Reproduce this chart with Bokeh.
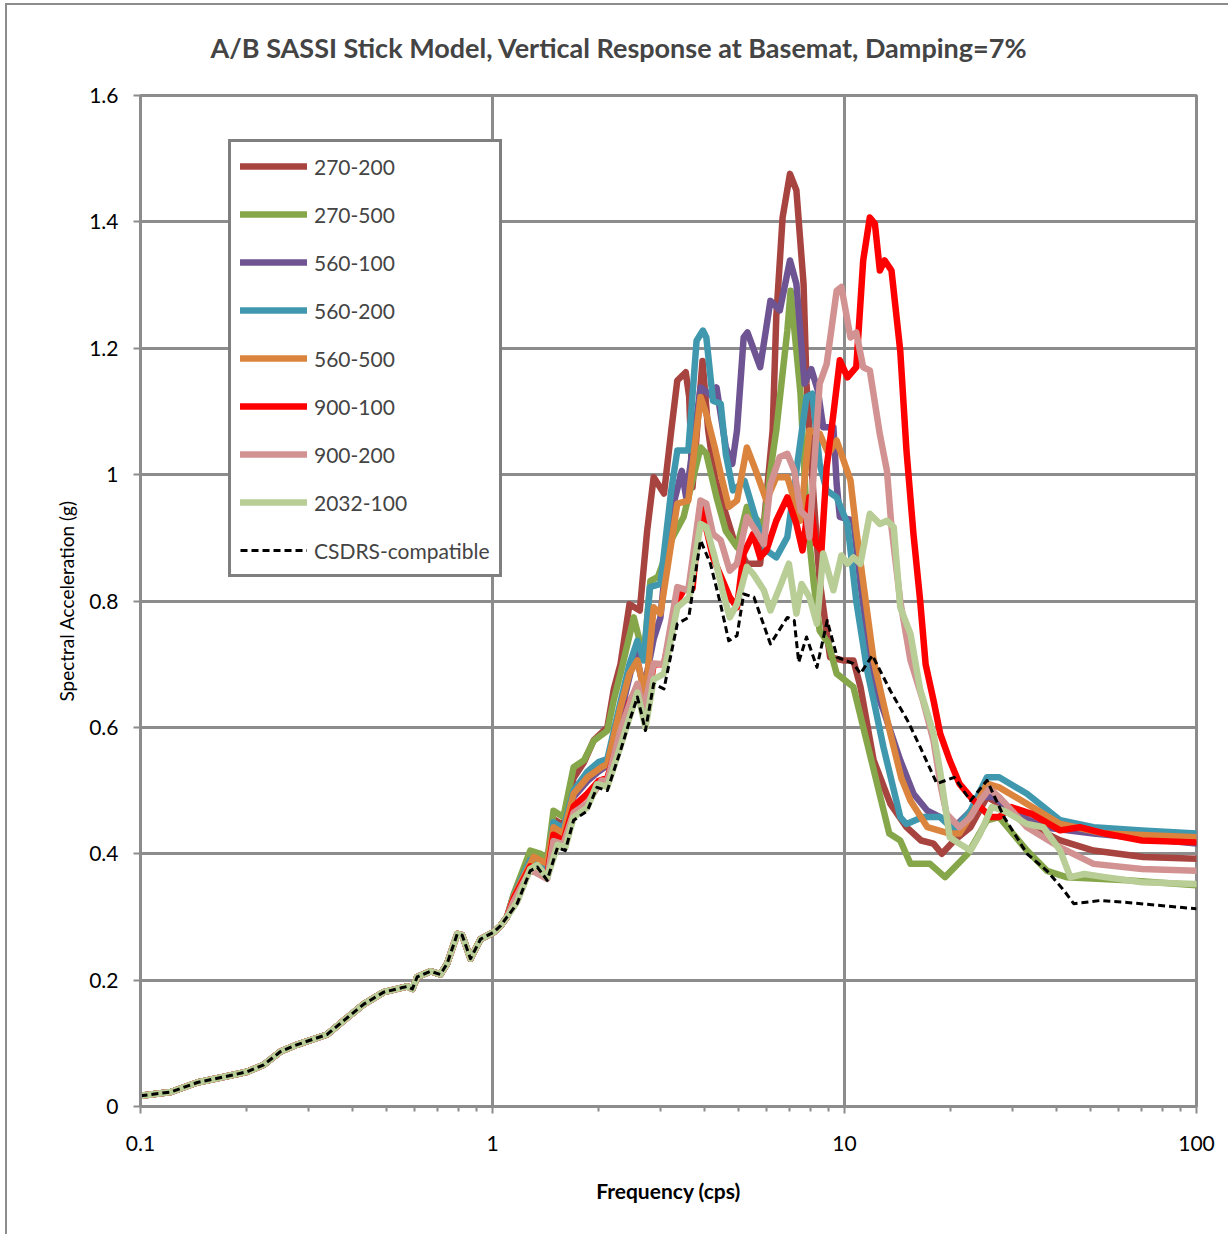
from bokeh.plotting import figure
from bokeh.models import (Range1d, FixedTicker, CustomJSTickFormatter, Legend, LegendItem)
from bokeh.embed import file_html
from bokeh.resources import INLINE

# ---------------- data ----------------
chart_title = "A/B SASSI Stick Model, Vertical Response at Basemat, Damping=7%"
series_names = ["270-200", "270-500", "560-100", "560-200", "560-500",
                "900-100", "900-200", "2032-100", "CSDRS-compatible"]

# shared part below ~1.1 cps (all curves coincide)
freq_low = [0.1, 0.122, 0.145, 0.18, 0.201, 0.224, 0.25, 0.279, 0.339, 0.378, 0.431, 0.491,
            0.573, 0.592, 0.611, 0.667, 0.711, 0.743, 0.794, 0.82, 0.866, 0.925, 1.009, 1.054, 1.10]
sa_low = [0.017, 0.023, 0.038, 0.049, 0.055, 0.066, 0.087, 0.098, 0.114, 0.136, 0.162, 0.181,
          0.190, 0.186, 0.205, 0.214, 0.209, 0.226, 0.273, 0.271, 0.234, 0.265, 0.276, 0.286, 0.300]

f_270_200 = [1.15, 1.28, 1.43, 1.49, 1.59, 1.70, 1.82, 1.94, 2.12, 2.21, 2.31, 2.45, 2.62, 2.75, 2.87,
             3.07, 3.22, 3.35, 3.54, 3.62, 3.70, 3.95, 4.10, 4.28, 4.45, 4.82, 5.28, 5.76, 6.00, 6.25,
             6.40, 6.67, 7.00, 7.30, 7.65, 7.80, 8.18, 8.50, 9.10, 9.90, 10.6, 11.1, 12.1, 13.5, 15.0,
             16.5, 17.9, 18.9, 20.5, 22.8, 25.4, 27.5, 33.0, 41.0, 51.0, 70.6, 100]
a_270_200 = [0.335, 0.39, 0.385, 0.455, 0.445, 0.52, 0.545, 0.58, 0.60, 0.66, 0.70, 0.795, 0.785, 0.911,
             0.996, 0.970, 1.070, 1.149, 1.162, 1.123, 0.98, 1.18, 1.07, 0.996, 0.964, 0.901, 0.859,
             0.859, 0.964, 1.07, 1.249, 1.407, 1.476, 1.450, 1.302, 1.144, 0.96, 0.832, 0.711, 0.706,
             0.706, 0.664, 0.548, 0.479, 0.442, 0.421, 0.416, 0.400, 0.421, 0.442, 0.490, 0.479, 0.447,
             0.421, 0.405, 0.395, 0.392]

f_270_500 = [1.15, 1.28, 1.37, 1.43, 1.49, 1.59, 1.70, 1.82, 1.94, 2.12, 2.21, 2.31, 2.52, 2.69, 2.81,
             2.95, 3.25, 3.49, 3.90, 4.05, 4.33, 4.60, 4.95, 5.28, 5.55, 5.90, 6.16, 6.40, 6.88, 7.03,
             7.50, 7.80, 8.18, 8.50, 9.00, 9.50, 10.6, 11.8, 13.4, 14.4, 15.4, 17.5, 19.3, 22.4, 25.4,
             27.5, 33.0, 37.6, 42.7, 63.5, 100]
a_270_500 = [0.337, 0.405, 0.400, 0.389, 0.468, 0.458, 0.537, 0.548, 0.579, 0.595, 0.643, 0.685, 0.774,
             0.711, 0.832, 0.838, 0.901, 0.933, 1.043, 1.033, 0.964, 0.911, 0.885, 0.949, 0.933, 0.917,
             1.006, 1.070, 1.228, 1.291, 1.128, 0.938, 0.827, 0.753, 0.733, 0.685, 0.664, 0.558, 0.432,
             0.421, 0.384, 0.384, 0.363, 0.400, 0.453, 0.458, 0.405, 0.373, 0.363, 0.358, 0.350]

f_560_100 = [1.15, 1.28, 1.43, 1.49, 1.59, 1.70, 1.86, 2.00, 2.12, 2.31, 2.45, 2.55, 2.69, 2.87, 3.00,
             3.20, 3.45, 3.55, 3.90, 4.23, 4.33, 4.60, 4.80, 4.95, 5.17, 5.30, 5.76, 6.16, 6.55, 7.00,
             7.30, 7.70, 8.05, 8.40, 8.70, 9.30, 9.50, 9.70, 10.6, 11.1, 12.1, 12.9, 14.4, 15.7, 17.2,
             18.7, 20.5, 22.4, 24.8, 26.5, 29.7, 36.7, 51.0, 100]
a_560_100 = [0.33, 0.385, 0.37, 0.44, 0.43, 0.49, 0.515, 0.53, 0.54, 0.62, 0.68, 0.72, 0.66, 0.74, 0.774,
             0.933, 1.006, 0.964, 1.138, 1.123, 1.138, 1.043, 1.017, 1.070, 1.217, 1.225, 1.170, 1.275,
             1.26, 1.339, 1.302, 1.144, 1.167, 1.133, 1.075, 1.075, 0.985, 0.933, 0.927, 0.827, 0.669,
             0.627, 0.548, 0.495, 0.468, 0.458, 0.442, 0.463, 0.490, 0.490, 0.468, 0.442, 0.432, 0.416]

f_560_200 = [1.15, 1.28, 1.43, 1.49, 1.59, 1.70, 1.86, 2.00, 2.12, 2.31, 2.45, 2.58, 2.69, 2.80, 3.00,
             3.22, 3.35, 3.60, 3.80, 3.96, 4.05, 4.23, 4.45, 4.60, 4.82, 4.95, 5.20, 5.60, 6.00, 6.40,
             6.88, 7.30, 7.80, 8.10, 8.50, 8.90, 9.50, 10.2, 10.8, 11.6, 12.1, 12.9, 14.4, 15.0, 16.7,
             18.7, 20.5, 22.8, 25.4, 27.5, 33.0, 41.0, 51.0, 70.0, 100]
a_560_200 = [0.335, 0.39, 0.375, 0.45, 0.44, 0.50, 0.53, 0.545, 0.55, 0.64, 0.70, 0.737, 0.706, 0.822,
             0.827, 0.975, 1.038, 1.038, 1.212, 1.228, 1.217, 1.117, 1.112, 1.033, 0.975, 0.980, 0.99,
             0.93, 0.88, 0.869, 0.901, 1.006, 1.123, 1.128, 1.017, 0.975, 0.964, 0.922, 0.80, 0.69,
             0.643, 0.569, 0.458, 0.447, 0.458, 0.458, 0.437, 0.468, 0.521, 0.521, 0.495, 0.453, 0.442,
             0.437, 0.432]

f_560_500 = [1.15, 1.31, 1.43, 1.49, 1.59, 1.70, 1.86, 2.04, 2.12, 2.31, 2.45, 2.58, 2.72, 2.87, 3.00,
             3.35, 3.60, 3.90, 4.05, 4.28, 4.45, 4.69, 4.95, 5.28, 5.60, 6.00, 6.40, 6.88, 7.50, 7.95,
             8.50, 9.00, 9.50, 10.4, 10.8, 12.1, 13.5, 14.5, 15.4, 17.2, 19.9, 21.2, 23.3, 25.4, 27.5,
             33.0, 41.0, 55.0, 100]
a_560_500 = [0.333, 0.395, 0.384, 0.442, 0.432, 0.495, 0.521, 0.537, 0.542, 0.632, 0.685, 0.706, 0.648,
             0.790, 0.780, 0.954, 0.959, 1.123, 1.096, 1.043, 1.001, 0.949, 0.959, 1.043, 1.006, 0.959,
             0.996, 0.996, 0.927, 1.070, 1.065, 1.033, 1.054, 0.991, 0.912, 0.706, 0.590, 0.520, 0.484,
             0.442, 0.432, 0.432, 0.468, 0.511, 0.505, 0.479, 0.447, 0.432, 0.426]

f_900_100 = [1.15, 1.28, 1.43, 1.49, 1.59, 1.70, 1.86, 2.00, 2.12, 2.31, 2.45, 2.58, 2.72, 2.87, 3.07,
             3.35, 3.49, 3.70, 3.90, 4.23, 4.72, 4.95, 5.17, 5.50, 5.76, 6.00, 6.40, 6.88, 7.30, 7.60,
             7.95, 8.30, 8.60, 8.90, 9.30, 9.70, 10.2, 10.8, 11.3, 11.8, 12.2, 12.6, 13.0, 13.6, 14.4,
             15.0, 15.7, 16.4, 17.0, 17.9, 18.7, 19.9, 21.2, 22.8, 24.3, 26.0, 27.5, 29.7, 34.0, 41.0,
             46.6, 55.0, 70.0, 100]
a_900_100 = [0.33, 0.38, 0.365, 0.43, 0.42, 0.475, 0.495, 0.515, 0.52, 0.59, 0.64, 0.665, 0.62, 0.70,
             0.70, 0.80, 0.817, 0.82, 0.954, 0.869, 0.806, 0.79, 0.875, 0.906, 0.869, 0.880, 0.927,
             0.964, 0.922, 0.880, 0.964, 0.890, 0.880, 1.012, 1.096, 1.181, 1.154, 1.170, 1.339, 1.407,
             1.397, 1.323, 1.339, 1.323, 1.196, 1.038, 0.906, 0.801, 0.70, 0.643, 0.590, 0.548, 0.511,
             0.490, 0.474, 0.458, 0.458, 0.474, 0.463, 0.437, 0.442, 0.432, 0.421, 0.418]

f_900_200 = [1.15, 1.28, 1.43, 1.49, 1.59, 1.70, 1.86, 2.04, 2.12, 2.31, 2.47, 2.58, 2.69, 2.87, 3.07,
             3.35, 3.60, 3.90, 4.05, 4.23, 4.45, 4.72, 4.95, 5.28, 5.60, 5.90, 6.16, 6.55, 6.88, 7.20,
             7.50, 7.80, 7.95, 8.50, 8.90, 9.50, 9.80, 10.4, 10.8, 11.3, 11.8, 12.6, 13.2, 13.6, 14.4,
             15.4, 16.7, 17.9, 18.8, 19.5, 21.2, 22.8, 24.3, 25.8, 27.5, 33.0, 41.0, 51.0, 70.0, 100]
a_900_200 = [0.325, 0.375, 0.36, 0.42, 0.415, 0.465, 0.48, 0.516, 0.515, 0.595, 0.643, 0.669, 0.627,
             0.701, 0.70, 0.822, 0.817, 0.959, 0.954, 0.906, 0.896, 0.848, 0.859, 0.933, 0.911, 0.890,
             0.985, 1.028, 1.033, 1.006, 0.943, 0.933, 0.901, 1.144, 1.175, 1.291, 1.297, 1.217, 1.225,
             1.170, 1.165, 1.064, 1.006, 0.917, 0.80, 0.706, 0.643, 0.579, 0.505, 0.463, 0.442, 0.458,
             0.484, 0.503, 0.490, 0.442, 0.410, 0.384, 0.376, 0.373]

f_2032_100 = [1.175, 1.28, 1.34, 1.43, 1.53, 1.61, 1.70, 1.86, 1.98, 2.12, 2.31, 2.47, 2.58, 2.72, 2.87,
              3.07, 3.35, 3.62, 3.90, 4.05, 4.28, 4.50, 4.72, 4.95, 5.28, 5.50, 5.90, 6.16, 6.55, 6.95,
              7.30, 7.55, 7.95, 8.35, 8.70, 9.30, 9.80, 10.2, 10.6, 11.1, 11.8, 12.6, 13.2, 13.8, 14.4,
              15.4, 16.4, 17.9, 18.7, 19.5, 19.9, 21.2, 22.8, 24.3, 26.2, 28.4, 33.0, 36.7, 41.0, 43.8,
              48.0, 55.0, 70.0, 100]
a_2032_100 = [0.324, 0.376, 0.382, 0.362, 0.414, 0.41, 0.458, 0.473, 0.51, 0.506, 0.57, 0.622, 0.655,
              0.60, 0.676, 0.685, 0.790, 0.806, 0.922, 0.917, 0.869, 0.817, 0.774, 0.795, 0.854, 0.843,
              0.817, 0.785, 0.822, 0.859, 0.780, 0.827, 0.806, 0.764, 0.875, 0.817, 0.872, 0.859, 0.869,
              0.859, 0.938, 0.922, 0.927, 0.917, 0.79, 0.748, 0.66, 0.59, 0.53, 0.46, 0.426, 0.416,
              0.405, 0.432, 0.474, 0.468, 0.447, 0.442, 0.405, 0.363, 0.368, 0.363, 0.355, 0.352]

f_csdrs = [1.175, 1.28, 1.34, 1.43, 1.53, 1.61, 1.70, 1.86, 1.98, 2.12, 2.31, 2.47, 2.58, 2.72, 2.87,
           3.07, 3.35, 3.61, 3.90, 4.16, 4.44, 4.69, 4.95, 5.17, 5.53, 6.16, 6.88, 7.20, 7.41, 7.80,
           8.35, 8.93, 9.53, 10.6, 11.1, 12.0, 13.5, 15.1, 16.4, 18.3, 20.5, 22.8, 25.4, 28.4, 33.0,
           37.6, 42.0, 44.8, 53.3, 63.5, 79.0, 100]
a_csdrs = [0.321, 0.373, 0.379, 0.358, 0.410, 0.405, 0.453, 0.468, 0.505, 0.500, 0.563, 0.616, 0.648,
           0.595, 0.669, 0.661, 0.764, 0.774, 0.896, 0.859, 0.796, 0.737, 0.745, 0.811, 0.806, 0.732,
           0.774, 0.769, 0.703, 0.743, 0.695, 0.769, 0.711, 0.701, 0.685, 0.714, 0.658, 0.611, 0.569,
           0.511, 0.521, 0.484, 0.516, 0.458, 0.400, 0.373, 0.342, 0.321, 0.326, 0.323, 0.318, 0.313]

series_freq = [f_270_200, f_270_500, f_560_100, f_560_200, f_560_500, f_900_100, f_900_200, f_2032_100, f_csdrs]
series_sa = [a_270_200, a_270_500, a_560_100, a_560_200, a_560_500, a_900_100, a_900_200, a_2032_100, a_csdrs]
series_colors = ["#A84440", "#86A64A", "#6F5493", "#4098AF", "#DB843D", "#FF0000", "#D19291", "#B9CD96", "#000000"]

y_ticks = [0, 0.2, 0.4, 0.6, 0.8, 1.0, 1.2, 1.4, 1.6]
x_ticks = [0.1, 1, 10, 100]

FONT = "Lato"
GRID = "#8c8c8c"

# ---------------- figure ----------------
p = figure(width=1228, height=1234, x_axis_type="log",
           x_range=Range1d(0.1, 100), y_range=Range1d(0, 1.6),
           output_backend="svg", toolbar_location=None,
           min_border_left=140, min_border_right=32, min_border_top=95, min_border_bottom=128,
           title=chart_title)

p.border_fill_color = None
p.background_fill_color = "white"
p.styles = {"background-color": "white",
            "box-shadow": "inset 5px 3px 0 0 #ffffff, inset 7px 5px 0 0 #8c8c8c"}

p.title.text_font = FONT
p.title.text_font_size = "27px"
p.title.text_font_style = "bold"
p.title.align = "left"
p.title.offset = 70
p.title.vertical_align = "top"
p.title.standoff = 60

p.outline_line_color = GRID
p.outline_line_width = 3

# x axis
p.xaxis.ticker = FixedTicker(ticks=x_ticks,
                             minor_ticks=[m * d for d in (0.1, 1, 10) for m in range(2, 10)])
p.xaxis.formatter = CustomJSTickFormatter(code="return Number(tick.toPrecision(6)).toString();")
p.xaxis.axis_label = "Frequency (cps)"
p.xaxis.axis_label_text_font = FONT
p.xaxis.axis_label_text_font_style = "bold"
p.xaxis.axis_label_text_font_size = "21px"
p.xaxis.axis_label_standoff = 24
p.xaxis.major_label_standoff = 22
p.xaxis.minor_tick_out = 5
p.xaxis.minor_tick_in = 0
p.xaxis.minor_tick_line_color = GRID
p.xaxis.minor_tick_line_width = 2

# y axis
p.yaxis.ticker = FixedTicker(ticks=y_ticks)
p.yaxis.formatter = CustomJSTickFormatter(code="return Number(tick.toFixed(1)).toString();")
p.yaxis.axis_label = "Spectral Acceleration (g)"
p.yaxis.axis_label_text_font = FONT
p.yaxis.axis_label_text_font_style = "normal"
p.yaxis.axis_label_text_font_size = "19px"
p.yaxis.axis_label_standoff = 8
p.yaxis.major_label_standoff = 15
p.yaxis.minor_tick_line_color = None

for ax in (p.xaxis, p.yaxis):
    ax.axis_line_color = GRID
    ax.axis_line_width = 3
    ax.major_tick_line_color = GRID
    ax.major_tick_line_width = 2
    ax.major_tick_out = 7
    ax.major_tick_in = 0
    ax.major_label_text_font = FONT
    ax.major_label_text_font_size = "21px"
    ax.major_label_text_color = "black"
    ax.axis_label_text_color = "black"

p.xgrid.grid_line_color = GRID
p.xgrid.grid_line_width = 3
p.ygrid.grid_line_color = GRID
p.ygrid.grid_line_width = 3

# ---------------- lines ----------------
items = []
for name, fr, sa, col in zip(series_names, series_freq, series_sa, series_colors):
    xs = freq_low + fr
    ys = sa_low + sa
    if name == "CSDRS-compatible":
        r = p.line(xs, ys, line_color=col, line_width=3, line_dash="7 4", line_join="round")
    else:
        r = p.line(xs, ys, line_color=col, line_width=6.5, line_join="round", line_cap="round")
    items.append(LegendItem(label=name, renderers=[r]))

legend = Legend(items=items, location=(88, 529))
legend.border_line_color = "black"
legend.border_line_width = 3
legend.background_fill_color = "white"
legend.background_fill_alpha = 1
legend.glyph_width = 67
legend.glyph_height = 30
legend.label_height = 30
legend.spacing = 18
legend.padding = 9
legend.margin = 0
legend.label_standoff = 7
legend.label_text_font = FONT
legend.label_text_font_size = "21px"
p.add_layout(legend)

open("out.html", "w").write(file_html(p, INLINE))
